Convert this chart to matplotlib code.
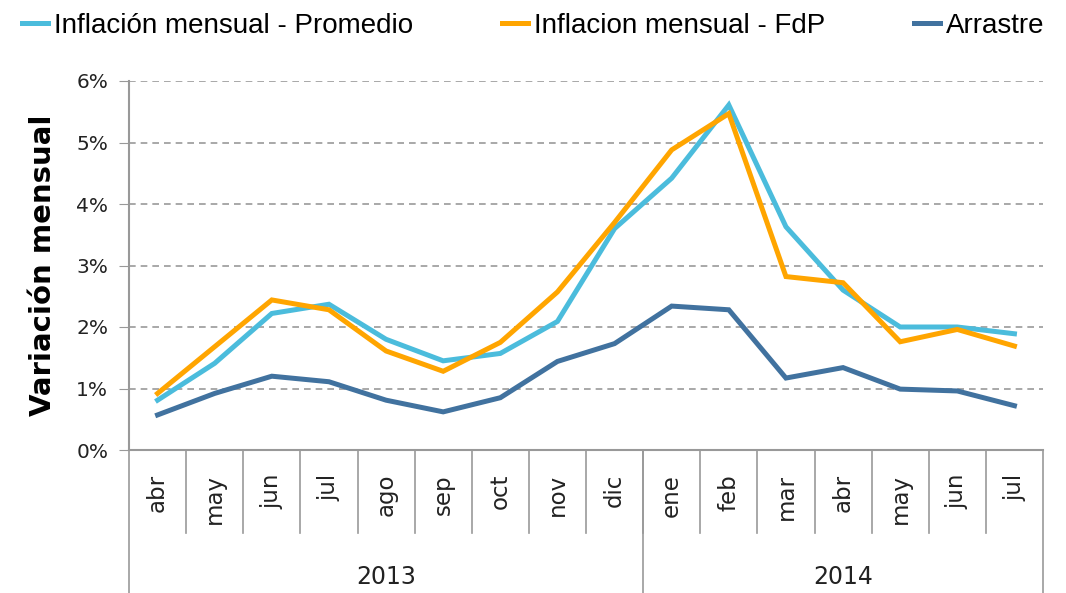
import numpy as np
import matplotlib
matplotlib.use("Agg")
import matplotlib.pyplot as plt
import matplotlib.transforms as mtransforms
from matplotlib.ticker import FuncFormatter

# Data (monthly %)
months = ["abr", "may", "jun", "jul", "ago", "sep", "oct", "nov", "dic",
          "ene", "feb", "mar", "abr", "may", "jun", "jul"]
years = ["2013", "2014"]
months_per_year = [9, 7]

promedio = [0.81, 1.41, 2.22, 2.37, 1.80, 1.45, 1.57, 2.09, 3.60,
            4.42, 5.61, 3.63, 2.60, 2.00, 2.00, 1.89]
fdp = [0.92, 1.68, 2.44, 2.28, 1.61, 1.28, 1.75, 2.57, 3.70,
       4.88, 5.47, 2.82, 2.72, 1.76, 1.96, 1.69]
arrastre = [0.57, 0.92, 1.20, 1.11, 0.81, 0.62, 0.85, 1.44, 1.73,
            2.34, 2.28, 1.17, 1.34, 0.99, 0.96, 0.72]

series = [
    ("Inflación mensual - Promedio", promedio, "#4bbcdc"),
    ("Inflacion mensual - FdP", fdp, "#ffa500"),
    ("Arrastre", arrastre, "#41729f"),
]

plt.rcParams['font.family'] = ['DejaVu Sans']
narrow = ['Liberation Sans Narrow', 'Liberation Sans', 'DejaVu Sans']

fig = plt.figure(figsize=(10.66, 5.93), dpi=100)
ax = fig.add_axes([129 / 1066, 1 - 450 / 593, (1043 - 129) / 1066, (450 - 81) / 593])

x = np.arange(len(months))
for name, vals, col in series:
    ax.plot(x, vals, color=col, lw=3.6, label=name, solid_joinstyle='miter')

ax.set_xlim(-0.5, len(months) - 0.5)
ax.set_ylim(0, 6)
ax.set_yticks(np.arange(0, 7, 1))
ax.yaxis.set_major_formatter(FuncFormatter(lambda v, p: f"{int(v)}%"))
ax.tick_params(axis='y', labelsize=14.5, length=7, color='#999999', pad=8,
               labelcolor='#222222')
ax.set_xticks([])
ax.grid(axis='y', color='#999999', ls=(0, (4, 3)), lw=1.2)
ax.set_axisbelow(True)

for s in ['top', 'right']:
    ax.spines[s].set_visible(False)
ax.spines['left'].set_color('#999999')
ax.spines['bottom'].set_color('#999999')
ax.spines['left'].set_linewidth(1.5)
ax.spines['bottom'].set_linewidth(1.5)

ax.set_ylabel("Variación mensual", fontsize=21, fontweight='bold', labelpad=14)

# category axis with month and year rows
trans = mtransforms.blended_transform_factory(ax.transData, ax.transAxes)
for i, m in enumerate(months):
    ax.text(i, -0.065, m, rotation=90, ha='center', va='top', fontsize=16.5,
            color='#222222', transform=trans)
for b in np.arange(0.5, len(months) - 1, 1):
    ax.plot([b, b], [0, -0.225], color='#999999', lw=1.2, transform=trans,
            clip_on=False)

start = -0.5
for yr, n in zip(years, months_per_year):
    ax.text(start + n / 2, -0.344, yr, ha='center', va='center', fontsize=17,
            color='#222222', transform=trans)
    start += n
edges = np.concatenate([[-0.5], -0.5 + np.cumsum(months_per_year)])
for e in edges:
    ax.plot([e, e], [0, -0.39], color='#999999', lw=1.2, transform=trans,
            clip_on=False)

fig.legend(loc='upper center', bbox_to_anchor=(0.5, 1.02), ncol=3,
           frameon=False, prop={'family': narrow, 'size': 20},
           handlelength=0.95, handletextpad=0.2, columnspacing=3.2)

fig.savefig("out.png", dpi=100)
